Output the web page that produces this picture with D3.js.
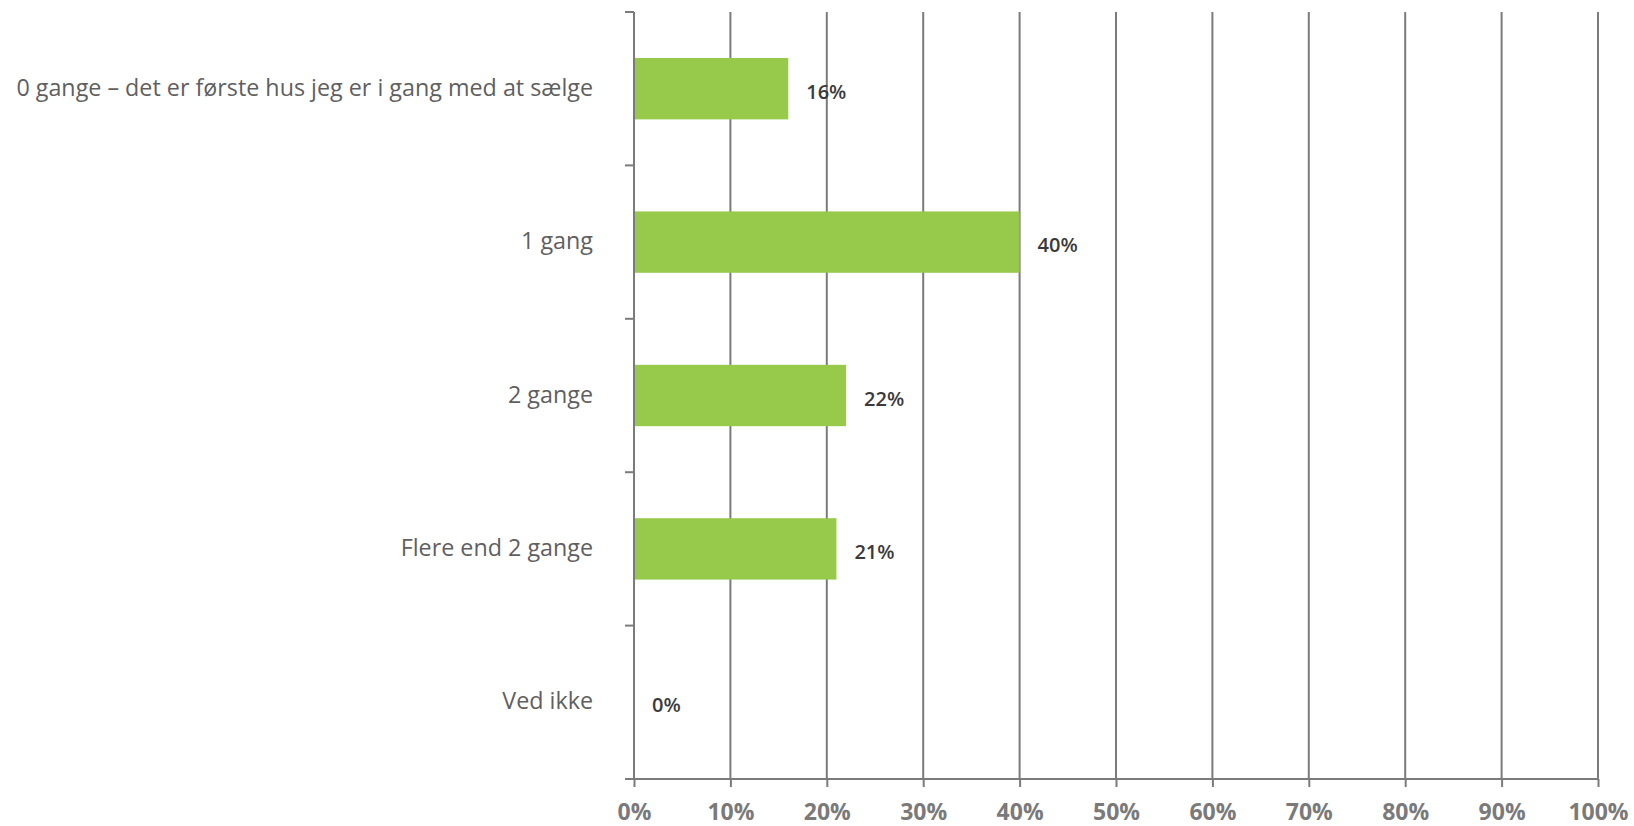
<!DOCTYPE html>
<html>
<head>
<meta charset="utf-8">
<script src="https://cdn.jsdelivr.net/npm/d3@7"></script>
<style>
  body { margin: 0; background: #fff; }
  svg { display: block; }
</style>
</head>
<body>
<script>
// data
var categories = [
  "0 gange \u2013 det er første hus jeg er i gang med at sælge",
  "1 gang",
  "2 gange",
  "Flere end 2 gange",
  "Ved ikke"
]
var values = [0.16, 0.40, 0.22, 0.21, 0.00]
var xTicks = [0, 0.1, 0.2, 0.3, 0.4, 0.5, 0.6, 0.7, 0.8, 0.9, 1.0]

var W = 1634, H = 826
var mLeft = 634, mRight = 1598, mTop = 12, mBottom = 779

var svg = d3.select("body").append("svg")
  .attr("width", W)
  .attr("height", H)

var x = d3.scaleLinear().domain([0, 1]).range([mLeft, mRight])
var y = d3.scaleBand().domain(categories).range([mTop, mBottom]).paddingInner(0.6).paddingOuter(0.3)

var lineCol = "#7b7b7b"

// vertical grid lines
svg.append("g").selectAll("line")
  .data(xTicks.slice(1))
  .enter().append("line")
  .attr("x1", function(d){ return x(d) })
  .attr("x2", function(d){ return x(d) })
  .attr("y1", mTop)
  .attr("y2", mBottom)
  .attr("stroke", lineCol)
  .attr("stroke-width", 2)

// bars
svg.append("g").selectAll("rect")
  .data(values)
  .enter().append("rect")
  .attr("x", x(0))
  .attr("y", function(d, i){ return y(categories[i]) })
  .attr("width", function(d){ return x(d) - x(0) })
  .attr("height", y.bandwidth())
  .attr("fill", "#97c94b")

// bottom axis
var xAxis = d3.axisBottom(x)
  .tickValues(xTicks)
  .tickFormat(d3.format(".0%"))
  .tickSize(8)
  .tickSizeOuter(0)

var gx = svg.append("g")
  .attr("transform", "translate(0," + mBottom + ")")
  .call(xAxis)
gx.select(".domain").remove()
gx.append("line")
  .attr("x1", mLeft - 9).attr("x2", mRight)
  .attr("y1", 0).attr("y2", 0)
  .attr("stroke", lineCol).attr("stroke-width", 2)
gx.selectAll(".tick line").attr("stroke", lineCol).attr("stroke-width", 2)
gx.selectAll(".tick text")
  .attr("y", 25)
  .attr("dy", "0.71em")
  .attr("fill", "#7a7a7a")
  .style("font-family", "'Open Sans', sans-serif")
  .style("font-size", "23px")
  .style("font-weight", "bold")

// left axis: line + ticks at band boundaries
var gy = svg.append("g")
gy.append("line")
  .attr("x1", mLeft).attr("x2", mLeft)
  .attr("y1", mTop).attr("y2", mBottom)
  .attr("stroke", lineCol).attr("stroke-width", 2)

var step = y.step()
var bounds = d3.range(categories.length).map(function(i){ return mTop + i * step })
gy.selectAll("line.tk")
  .data(bounds)
  .enter().append("line")
  .attr("class", "tk")
  .attr("x1", mLeft - 9).attr("x2", mLeft)
  .attr("y1", function(d){ return d }).attr("y2", function(d){ return d })
  .attr("stroke", lineCol).attr("stroke-width", 2)

// category labels
gy.selectAll("text")
  .data(categories)
  .enter().append("text")
  .attr("x", mLeft - 41)
  .attr("y", function(d){ return y(d) + y.bandwidth() / 2 - 1 })
  .attr("dy", "0.35em")
  .attr("text-anchor", "end")
  .attr("fill", "#5f5f5f")
  .style("font-family", "'Open Sans', sans-serif")
  .style("font-size", "23.3px")
  .text(function(d){ return d })

// value labels
svg.append("g").selectAll("text")
  .data(values)
  .enter().append("text")
  .attr("x", function(d){ return x(d) + 18 })
  .attr("y", function(d, i){ return y(categories[i]) + y.bandwidth() / 2 + 3 })
  .attr("dy", "0.35em")
  .attr("fill", "#3a3a3a")
  .style("font-family", "'Open Sans', sans-serif")
  .style("font-size", "20px")
  .style("font-weight", "600")
  .text(function(d){ return d3.format(".0%")(d) })
</script>
</body>
</html>
